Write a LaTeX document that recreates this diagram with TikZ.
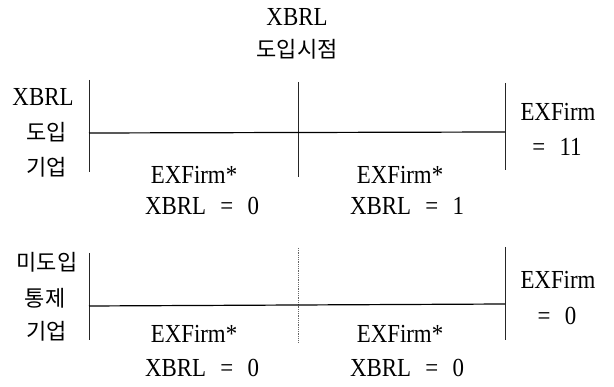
\documentclass[tikz,border=0pt]{standalone}
\usepackage{fontspec}
\setmainfont{Liberation Serif}[FakeStretch=0.88]
\newfontfamily\kor{Noto Sans CJK KR}
\newcommand{\gap}{\hspace{0.55em}}
\begin{document}
\begin{tikzpicture}[x=1pt,y=-1pt,
  lbl/.style={font=\fontsize{26}{28}\selectfont, inner sep=0pt, anchor=center},
  klbl/.style={font=\kor\fontsize{22}{24}\selectfont, inner sep=0pt, anchor=center},
  vline/.style={line width=0.8pt, draw=black!85},
  hline/.style={line width=1.2pt},
  dline/.style={line width=0.8pt, draw=black!60, densely dotted}]
\useasboundingbox (0,0) rectangle (614,387);
% title
\node[lbl] (t1) at (297,17) {XBRL};
\node[klbl] (t2) at (297,49) {도입시점};
% top block
\coordinate (a1) at (89,80);  \coordinate (a2) at (89,172);
\coordinate (b1) at (298,82); \coordinate (b2) at (298,177);
\coordinate (c1) at (505,83); \coordinate (c2) at (505,170);
\coordinate (h1) at (89,133); \coordinate (h2) at (505,132);
\draw[vline] (a1) -- (a2);
\draw[vline] (b1) -- (b2);
\draw[vline] (c1) -- (c2);
\draw[hline] (h1) -- (h2);
\node[lbl] (l1) at (43,97) {XBRL};
\node[klbl] (l2) at (47,132) {도입};
\node[klbl] (l3) at (47,167) {기업};
\node[lbl] (r1) at (558,112) {EXFirm};
\node[lbl] (r2) at (557,147) {=\gap 11};
\node[lbl] (m1) at (194,175) {EXFirm*};
\node[lbl] (m2) at (202,206) {XBRL\gap =\gap 0};
\node[lbl] (m3) at (400,175) {EXFirm*};
\node[lbl] (m4) at (407,206) {XBRL\gap =\gap 1};
% bottom block
\coordinate (d1) at (89,253);  \coordinate (d2) at (89,340);
\coordinate (e1) at (298,248); \coordinate (e2) at (298,342);
\coordinate (f1) at (505,247); \coordinate (f2) at (505,340);
\coordinate (g1) at (89,306);  \coordinate (g2) at (505,304);
\draw[vline] (d1) -- (d2);
\draw[dline] (e1) -- (e2);
\draw[vline] (f1) -- (f2);
\draw[hline] (g1) -- (g2);
\node[klbl] (n1) at (47,262) {미도입};
\node[klbl] (n2) at (45,298) {통제};
\node[klbl] (n3) at (47,331) {기업};
\node[lbl] (s1) at (558,280) {EXFirm};
\node[lbl] (s2) at (557,316) {=\gap 0};
\node[lbl] (p1) at (194,334) {EXFirm*};
\node[lbl] (p2) at (202,368) {XBRL\gap =\gap 0};
\node[lbl] (p3) at (400,334) {EXFirm*};
\node[lbl] (p4) at (407,368) {XBRL\gap =\gap 0};
\end{tikzpicture}
\end{document}
